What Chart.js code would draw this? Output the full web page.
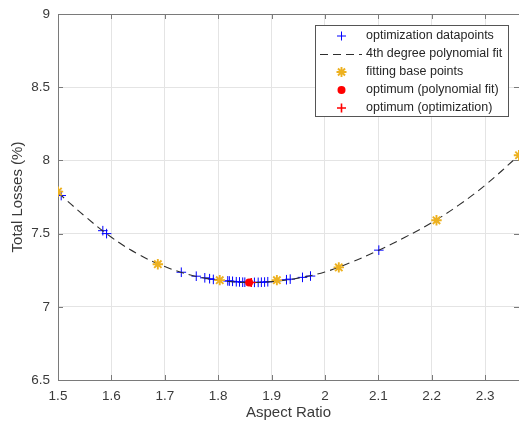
<!DOCTYPE html>
<html>
<head>
<meta charset="utf-8">
<script src="https://cdn.jsdelivr.net/npm/chart.js@4/dist/chart.umd.min.js"></script>
<style>
html,body{margin:0;padding:0;background:#fff;}
#c{display:block;}
</style>
</head>
<body>
<canvas id="c" width="519" height="428"></canvas>
<script>
// ---- data ----
const optX = [1.506, 1.584, 1.591, 1.731, 1.759, 1.775, 1.784, 1.791, 1.818, 1.821, 1.827, 1.834, 1.840, 1.846, 1.850, 1.868, 1.875, 1.881, 1.887, 1.893, 1.928, 1.935, 1.958, 1.973, 2.101];
const optY = [7.760, 7.520, 7.500, 7.236, 7.209, 7.198, 7.192, 7.187, 7.177, 7.176, 7.174, 7.171, 7.170, 7.168, 7.168, 7.167, 7.167, 7.168, 7.169, 7.171, 7.185, 7.189, 7.201, 7.210, 7.387];
const fitX = [1.5, 1.55, 1.6, 1.65, 1.7, 1.75, 1.8, 1.85, 1.9, 1.95, 2.0, 2.05, 2.1, 2.15, 2.2, 2.25, 2.3, 2.3636];
const fitY = [7.780, 7.620, 7.475, 7.360, 7.275, 7.216, 7.182, 7.167, 7.172, 7.196, 7.238, 7.305, 7.385, 7.475, 7.575, 7.693, 7.830, 8.035];
const baseX = [1.5, 1.687, 1.803, 1.910, 2.026, 2.209, 2.3636];
const baseY = [7.787, 7.291, 7.182, 7.182, 7.269, 7.591, 8.035];
const optimumFitX = [1.858];
const optimumFitY = [7.166];
const optimumOptX = [1.862];
const optimumOptY = [7.166];
const xTicks = [1.5, 1.6, 1.7, 1.8, 1.9, 2.0, 2.1, 2.2, 2.3];
const yTicks = [6.5, 7, 7.5, 8, 8.5, 9];
const legendLabels = ['optimization datapoints', '4th degree polynomial fit', 'fitting base points', 'optimum (polynomial fit)', 'optimum (optimization)'];

const FONT = "'Liberation Sans', Arial, Helvetica, sans-serif";
const zip = (xs, ys) => xs.map((x, i) => ({x: x, y: ys[i]}));

const BLUE = '#0000ff', ORANGE = '#EDB120', RED = '#ff0000', LINE = '#2e2e2e';

function drawMarker(ctx, style, x, y, r, color, lw) {
  ctx.save();
  ctx.strokeStyle = color; ctx.fillStyle = color; ctx.lineWidth = lw;
  ctx.beginPath();
  if (style === 'cross') {
    ctx.moveTo(x - r, y); ctx.lineTo(x + r, y);
    ctx.moveTo(x, y - r); ctx.lineTo(x, y + r);
    ctx.stroke();
  } else if (style === 'star') {
    ctx.moveTo(x - r, y); ctx.lineTo(x + r, y);
    ctx.moveTo(x, y - r); ctx.lineTo(x, y + r);
    const d = r * Math.SQRT1_2;
    ctx.moveTo(x - d, y - d); ctx.lineTo(x + d, y + d);
    ctx.moveTo(x - d, y + d); ctx.lineTo(x + d, y - d);
    ctx.stroke();
  } else if (style === 'circle') {
    ctx.arc(x, y, r, 0, Math.PI * 2);
    ctx.fill();
  }
  ctx.restore();
}

const axesBox = {
  id: 'axesBox',
  beforeDatasetsDraw(chart) {
    const {ctx, chartArea: a, scales} = chart;
    ctx.save();
    ctx.strokeStyle = '#7a7a7a';
    ctx.lineWidth = 1;
    ctx.beginPath();
    ctx.moveTo(a.left, a.top + 0.5); ctx.lineTo(a.right, a.top + 0.5);
    const tl = 5;
    xTicks.forEach(v => {
      const px = Math.round(scales.x.getPixelForValue(v)) + 0.5;
      ctx.moveTo(px, a.bottom); ctx.lineTo(px, a.bottom - tl);
      ctx.moveTo(px, a.top); ctx.lineTo(px, a.top + tl);
    });
    yTicks.forEach(v => {
      const py = Math.round(scales.y.getPixelForValue(v)) + 0.5;
      ctx.moveTo(a.left, py); ctx.lineTo(a.left + tl, py);
      ctx.moveTo(a.right, py); ctx.lineTo(a.right - tl, py);
    });
    ctx.stroke();
    ctx.restore();
  }
};

const boxLegend = {
  id: 'boxLegend',
  afterDraw(chart) {
    const ctx = chart.ctx;
    const L = 315.5, T = 25.5, R = 508.5, B = 116.5;
    ctx.save();
    ctx.fillStyle = '#ffffff';
    ctx.fillRect(L, T, R - L, B - T);
    ctx.strokeStyle = '#555555';
    ctx.lineWidth = 1;
    ctx.strokeRect(L, T, R - L, B - T);
    const rows = [36, 54, 72, 90, 108];
    const mx = 341.5;
    drawMarker(ctx, 'cross', mx, rows[0], 4.5, BLUE, 1);
    ctx.save();
    ctx.strokeStyle = LINE; ctx.lineWidth = 1.1; ctx.setLineDash([8, 5]);
    ctx.beginPath(); ctx.moveTo(320, rows[1] + 0.5); ctx.lineTo(362, rows[1] + 0.5); ctx.stroke();
    ctx.restore();
    drawMarker(ctx, 'star', mx, rows[2], 5, ORANGE, 1.9);
    drawMarker(ctx, 'circle', mx, rows[3], 4, RED, 1);
    drawMarker(ctx, 'cross', mx, rows[4], 4.5, RED, 1.6);
    ctx.fillStyle = '#262626';
    ctx.font = '12.5px ' + FONT;
    ctx.textBaseline = 'middle';
    ctx.textAlign = 'left';
    legendLabels.forEach((t, i) => ctx.fillText(t, 366, rows[i]));
    ctx.restore();
  }
};

new Chart(document.getElementById('c'), {
  type: 'scatter',
  data: {
    datasets: [
      {
        label: legendLabels[4], data: zip(optimumOptX, optimumOptY), order: 0,
        pointStyle: 'cross', pointRadius: 4.5, borderColor: RED, backgroundColor: RED, pointBorderWidth: 1.6
      },
      {
        label: legendLabels[3], data: zip(optimumFitX, optimumFitY), order: 1,
        pointStyle: 'circle', pointRadius: 4, borderColor: RED, backgroundColor: RED, pointBorderWidth: 0
      },
      {
        label: legendLabels[2], data: zip(baseX, baseY), order: 2,
        pointStyle: 'star', pointRadius: 5.2, borderColor: ORANGE, backgroundColor: ORANGE, pointBorderWidth: 1.9
      },
      {
        label: legendLabels[1], data: zip(fitX, fitY), order: 3,
        showLine: true, pointRadius: 0, borderColor: LINE, borderWidth: 1.1,
        borderDash: [8, 5], tension: 0.4, fill: false
      },
      {
        label: legendLabels[0], data: zip(optX, optY), order: 4,
        pointStyle: 'cross', pointRadius: 4.8, borderColor: BLUE, backgroundColor: BLUE, pointBorderWidth: 1
      }
    ]
  },
  options: {
    responsive: false,
    animation: false,
    devicePixelRatio: 1,
    layout: {autoPadding: false, padding: {top: 14, right: 0, left: 0, bottom: 0}},
    plugins: {legend: {display: false}, tooltip: {enabled: false}},
    scales: {
      x: {
        type: 'linear', min: 1.5, max: 2.3636,
        afterBuildTicks: s => { s.ticks = xTicks.map(v => ({value: v})); },
        afterFit: s => { s.height = 48; s.paddingRight = 0; s.paddingLeft = 0; },
        ticks: {
          font: {family: FONT, size: 13.5}, color: '#3a3a3a', padding: 8, maxRotation: 0,
          callback: v => String(Number(v.toFixed(1)))
        },
        grid: {color: '#e4e4e4', drawTicks: false},
        border: {display: true, color: '#7a7a7a', width: 1},
        title: {display: true, text: 'Aspect Ratio', font: {family: FONT, size: 15}, color: '#3a3a3a', padding: {top: 0, bottom: 6}}
      },
      y: {
        type: 'linear', min: 6.5, max: 9,
        afterBuildTicks: s => { s.ticks = yTicks.map(v => ({value: v})); },
        afterFit: s => { s.width = 58; s.paddingTop = 0; s.paddingBottom = 0; },
        ticks: {
          font: {family: FONT, size: 13.5}, color: '#3a3a3a', padding: 8,
          callback: v => String(v)
        },
        grid: {color: '#e4e4e4', drawTicks: false},
        border: {display: true, color: '#7a7a7a', width: 1},
        title: {display: true, text: 'Total Losses (%)', font: {family: FONT, size: 15}, color: '#3a3a3a', padding: {top: 9, bottom: 0}}
      }
    }
  },
  plugins: [axesBox, boxLegend]
});
</script>
</body>
</html>
